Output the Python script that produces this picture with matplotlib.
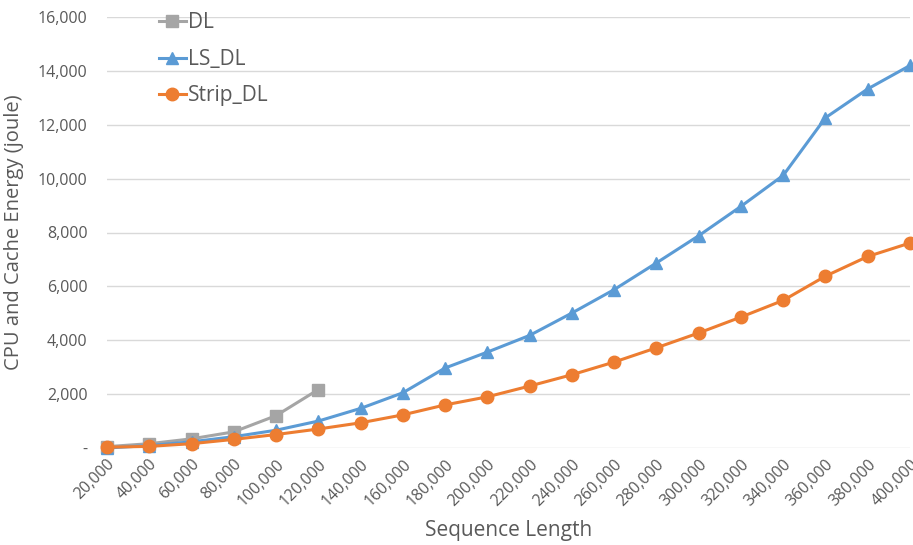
import numpy as np
import matplotlib.pyplot as plt
from matplotlib.ticker import FuncFormatter

plt.rcParams['font.family'] = ['Open Sans', 'DejaVu Sans']

seq_len = [20000, 40000, 60000, 80000, 100000, 120000, 140000, 160000, 180000, 200000,
           220000, 240000, 260000, 280000, 300000, 320000, 340000, 360000, 380000, 400000]

dl = [50, 160, 340, 600, 1200, 2170]
ls_dl = [0, 90, 230, 420, 660, 1000, 1470, 2050, 2970, 3560,
         4180, 5010, 5880, 6870, 7880, 8970, 10120, 12260, 13330, 14200]
strip_dl = [30, 60, 160, 320, 500, 705, 935, 1230, 1600, 1900,
            2300, 2720, 3190, 3720, 4270, 4860, 5480, 6380, 7110, 7610]

COLOR_DL = "#A5A5A5"
COLOR_LS = "#5B9BD5"
COLOR_STRIP = "#ED7D31"
TEXT = "#595959"

fig = plt.figure(figsize=(9.13, 5.45), dpi=100)
ax = fig.add_axes([107 / 913, 97 / 545, 803 / 913, 431 / 545])

ax.plot(seq_len[:len(dl)], dl, color=COLOR_DL, marker="s", markersize=8,
        linewidth=2.2, label="DL", zorder=3)
ax.plot(seq_len, ls_dl, color=COLOR_LS, marker="^", markersize=9,
        linewidth=2.2, label="LS_DL", zorder=4)
ax.plot(seq_len, strip_dl, color=COLOR_STRIP, marker="o", markersize=9,
        linewidth=2.2, label="Strip_DL", zorder=5)

ax.set_xlim(20000, 400000)
ax.set_ylim(0, 16000)
ax.set_xticks(seq_len)
ax.set_yticks(np.arange(0, 16001, 2000))
ax.xaxis.set_major_formatter(FuncFormatter(lambda v, p: f"{int(v):,}"))
ax.yaxis.set_major_formatter(FuncFormatter(lambda v, p: "-" if v == 0 else f"{int(v):,}"))

ax.grid(True, axis="y", color="#D9D9D9", linewidth=1)
ax.set_axisbelow(True)
for s in ax.spines.values():
    s.set_visible(False)
ax.tick_params(axis="both", length=0, colors=TEXT, labelsize=11.5)
ax.tick_params(axis="y", pad=14)
ax.tick_params(axis="x", pad=6)
plt.setp(ax.get_xticklabels(), rotation=45, ha="right", rotation_mode="anchor")
for line in ax.get_lines():
    line.set_clip_on(False)

ax.set_xlabel("Sequence Length", fontsize=15, color=TEXT, labelpad=8)
ax.set_ylabel("CPU and Cache Energy (joule)", fontsize=14.5, color=TEXT, labelpad=10)

ax.legend(loc="upper left", bbox_to_anchor=(140 / 913, 1.012), bbox_transform=fig.transFigure,
          frameon=False, fontsize=15, handlelength=1.3, handletextpad=0.1,
          labelspacing=0.75, labelcolor=TEXT)

fig.savefig("out.png", dpi=100)
